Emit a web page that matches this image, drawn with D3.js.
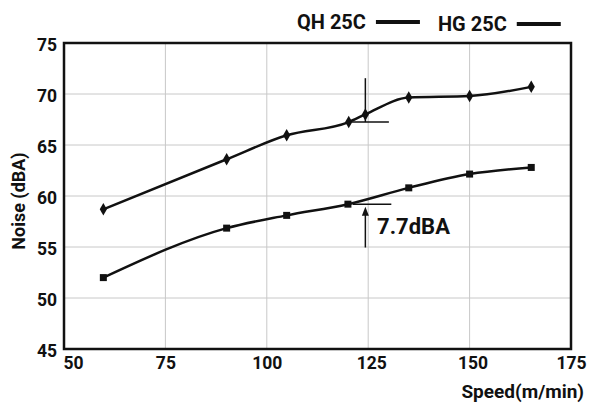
<!DOCTYPE html>
<html><head><meta charset="utf-8">
<script src="https://cdn.jsdelivr.net/npm/d3@7"></script>
<style>
html,body{margin:0;padding:0;background:#fff;}
svg text{font-family:Roboto,"DejaVu Sans",sans-serif;fill:#111;}
</style></head>
<body><svg id="c" width="592" height="403"></svg>
<script>
const speedsQH = [59.7, 90.1, 104.9, 120.2, 124.3, 135.0, 150.0, 165.2];
const noiseQH  = [58.7, 63.6, 65.95, 67.25, 68.0, 69.65, 69.8, 70.7];
const speedsHG = [59.7, 90.1, 104.9, 120.0, 135.0, 150.0, 165.2];
const noiseHG  = [52.0, 56.85, 58.1, 59.2, 60.8, 62.15, 62.8];
const xTicks = [50, 75, 100, 125, 150, 175];
const yTicks = [45, 50, 55, 60, 65, 70, 75];
const seriesNames = ["QH 25C", "HG 25C"];
const diffLabel = "7.7dBA";
// annotation geometry in data units
const upperMark = {x: 124.3, y0: 71.55, y1: 67.25, hx0: 121.0, hx1: 130.1, hy: 67.25};
const lowerMark = {x: 124.3, y0: 54.95, y1: 58.95, hx0: 121.2, hx1: 130.7, hy: 59.2, tx: 127.2, ty: 56.25};

const svg = d3.select("#c");
const m = {l: 64, r: 21, t: 43, b: 54};
const W = 592, H = 403;
const x = d3.scaleLinear().domain([50,175]).range([m.l, W - m.r]);
const y = d3.scaleLinear().domain([45,75]).range([H - m.b, m.t]);

// grid
svg.append("g").selectAll("line").data(xTicks.slice(1,-1)).join("line")
  .attr("x1", d=>x(d)).attr("x2", d=>x(d)).attr("y1", y(45)).attr("y2", y(75))
  .attr("stroke", "#c8c8c8").attr("stroke-width", 1);
svg.append("g").selectAll("line").data(yTicks.slice(1,-1)).join("line")
  .attr("y1", d=>y(d)).attr("y2", d=>y(d)).attr("x1", x(50)).attr("x2", x(175))
  .attr("stroke", "#c8c8c8").attr("stroke-width", 1);

// axes (labels only)
const xa = svg.append("g").attr("transform", `translate(0,${y(45)})`)
  .call(d3.axisBottom(x).tickValues(xTicks).tickSize(0).tickPadding(8));
xa.select(".domain").remove();
xa.selectAll("text").attr("font-size", 17.5).attr("font-weight", "bold")
  .attr("font-family", "Roboto").attr("fill", "#111")
  .attr("dx", d => d === 50 ? 9 : (d === 125 || d === 150 ? 3 : 0));
const ya = svg.append("g").attr("transform", `translate(${x(50)},0)`)
  .call(d3.axisLeft(y).tickValues(yTicks).tickSize(0).tickPadding(7));
ya.select(".domain").remove();
ya.selectAll("text").attr("font-size", 17.5).attr("font-weight", "bold")
  .attr("font-family", "Roboto").attr("fill", "#111").attr("dy", "0.4em");

// frame
svg.append("rect").attr("x", x(50)).attr("y", y(75))
  .attr("width", x(175)-x(50)).attr("height", y(45)-y(75))
  .attr("fill", "none").attr("stroke", "#111").attr("stroke-width", 2.5);

// lines
const line = d3.line().x(d=>x(d[0])).y(d=>y(d[1])).curve(d3.curveMonotoneX);
const qh = speedsQH.map((s,i)=>[s, noiseQH[i]]);
const hg = speedsHG.map((s,i)=>[s, noiseHG[i]]);
svg.append("path").attr("d", line(qh)).attr("fill","none").attr("stroke","#111").attr("stroke-width",2.5);
svg.append("path").attr("d", line(hg)).attr("fill","none").attr("stroke","#111").attr("stroke-width",2.5);

// markers
svg.append("g").selectAll("path").data(qh).join("path")
  .attr("transform", d=>`translate(${x(d[0])},${y(d[1])})`)
  .attr("d", d3.symbol(d3.symbolDiamond, 45)).attr("fill","#111");
svg.append("g").selectAll("rect").data(hg).join("rect")
  .attr("x", d=>x(d[0])-3.5).attr("y", d=>y(d[1])-3.5).attr("width",7).attr("height",7).attr("fill","#111");

// annotations
svg.append("line").attr("x1", x(upperMark.x)).attr("x2", x(upperMark.x))
  .attr("y1", y(upperMark.y0)).attr("y2", y(upperMark.y1)).attr("stroke","#111").attr("stroke-width",1.5);
svg.append("line").attr("x1", x(upperMark.hx0)).attr("x2", x(upperMark.hx1))
  .attr("y1", y(upperMark.hy)).attr("y2", y(upperMark.hy)).attr("stroke","#111").attr("stroke-width",1.5);
svg.append("line").attr("x1", x(lowerMark.hx0)).attr("x2", x(lowerMark.hx1))
  .attr("y1", y(lowerMark.hy)).attr("y2", y(lowerMark.hy)).attr("stroke","#111").attr("stroke-width",1.5);
svg.append("line").attr("x1", x(lowerMark.x)).attr("x2", x(lowerMark.x))
  .attr("y1", y(lowerMark.y0)).attr("y2", y(lowerMark.y1)+5).attr("stroke","#111").attr("stroke-width",1.5);
const ax = x(lowerMark.x), ay = y(lowerMark.y1);
svg.append("path").attr("d", `M${ax},${ay} L${ax-3.5},${ay+9} L${ax+3.5},${ay+9} Z`).attr("fill","#111");
svg.append("text").attr("x", x(lowerMark.tx)).attr("y", y(lowerMark.ty))
  .attr("font-size", 22).attr("font-weight","bold").text(diffLabel);

// axis titles
svg.append("text").attr("x", 584).attr("y", 398).attr("text-anchor","end")
  .attr("font-size", 19).attr("font-weight","bold").text("Speed(m/min)");
svg.append("text").attr("transform", "translate(25,201) rotate(-90)").attr("text-anchor","middle")
  .attr("font-size", 18).attr("font-weight","bold").text("Noise (dBA)");

// legend
const lg = svg.append("g");
const legX = [297, 438];
const legY = [29, 31];
seriesNames.forEach((n,i)=>{
  const t = lg.append("text").attr("x", legX[i]).attr("y", legY[i])
    .attr("font-size", 20).attr("font-weight", "bold").text(n);
  const w = t.node().getComputedTextLength();
  lg.append("line").attr("x1", legX[i]+w+10).attr("x2", legX[i]+w+54)
    .attr("y1", legY[i]-7).attr("y2", legY[i]-7).attr("stroke","#111").attr("stroke-width",4);
});
</script></body></html>
